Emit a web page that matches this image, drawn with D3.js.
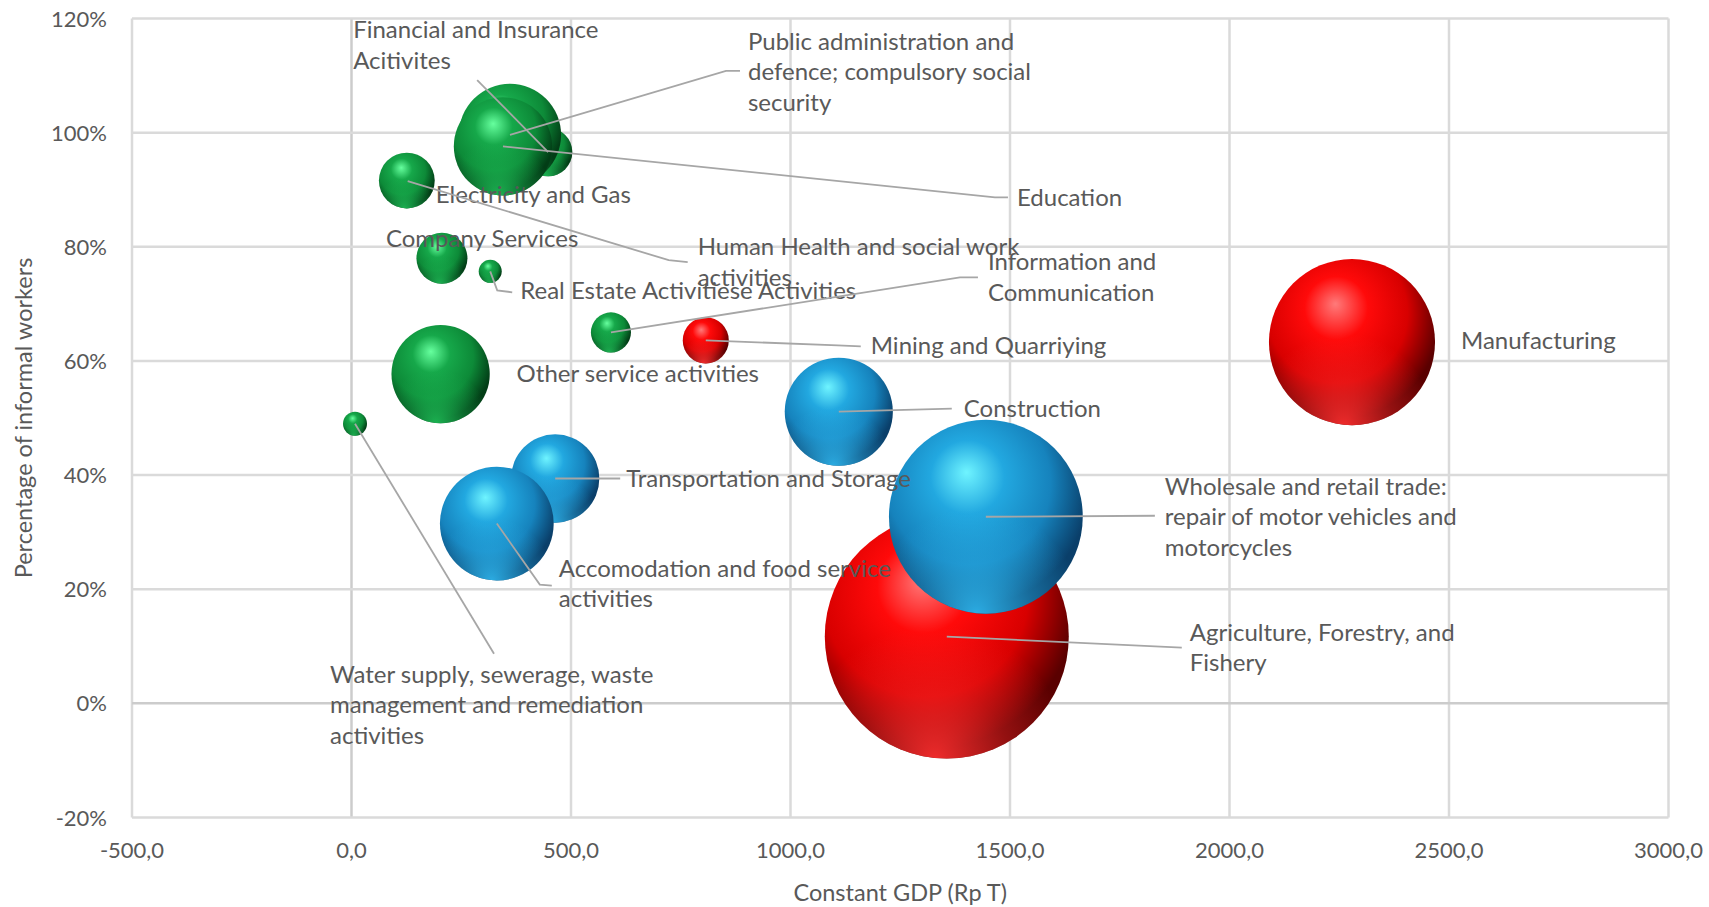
<!DOCTYPE html>
<html>
<head>
<meta charset="utf-8">
<script src="https://cdn.jsdelivr.net/npm/d3@7/dist/d3.min.js"></script>
<style>
  html, body { margin: 0; padding: 0; background: #ffffff; }
  svg { display: block; }
  text { font-family: Lato, "Open Sans", sans-serif; fill: #595959; }
</style>
</head>
<body>
<svg id="chart" width="1709" height="907"></svg>
<script>
// Sectors, drawn in this order (later ones sit on top)
const sectors = [
  "Agriculture, Forestry, and Fishery",
  "Mining and Quarriying",
  "Manufacturing",
  "Human Health and social work activities",
  "Electricity and Gas",
  "Water supply, sewerage, waste management and remediation activities",
  "Construction",
  "Wholesale and retail trade: repair of motor vehicles and motorcycles",
  "Transportation and Storage",
  "Accomodation and food service activities",
  "Information and Communication",
  "Financial and Insurance Acitivites",
  "Real Estate Activities",
  "Company Services",
  "Public administration and defence; compulsory social security",
  "Education",
  "Other service activities"
];
// Constant GDP (Rp T)
const gdp = [1356, 807, 2279, 128, 126, 8, 1110, 1445, 464, 331, 591, 448, 316, 206, 361, 345, 203];
// Share of informal workers
const informal = [0.117, 0.636, 0.633, 0.915, 0.916, 0.490, 0.511, 0.327, 0.394, 0.315, 0.650, 0.966, 0.757, 0.780, 0.996, 0.976, 0.577];
// Bubble size (workers, millions)
const workers = [38.2, 1.36, 17.7, 1.0, 2.0, 0.37, 7.5, 24.1, 5.0, 8.3, 1.03, 1.5, 0.34, 1.67, 6.7, 6.2, 6.2];
// Sector group
const group = ["primary", "primary", "primary", "services", "services", "services", "trade", "trade", "trade", "trade",
               "services", "services", "services", "services", "services", "services", "services"];

// Data label lines as displayed
const labelLines = [
  ["Agriculture, Forestry, and", "Fishery"],
  ["Mining and Quarriying"],
  ["Manufacturing"],
  ["Human Health and social work", "activities"],
  ["Electricity and Gas"],
  ["Water supply, sewerage, waste", "management and remediation", "activities"],
  ["Construction"],
  ["Wholesale and retail trade:", "repair of motor vehicles and", "motorcycles"],
  ["Transportation and Storage"],
  ["Accomodation and food service", "activities"],
  ["Information and", "Communication"],
  ["Financial and Insurance", "Acitivites"],
  ["Real Estate Activitiese Activities"],
  ["Company Services"],
  ["Public administration and", "defence; compulsory social", "security"],
  ["Education"],
  ["Other service activities"]
];

// Axis ticks
const xTicks = [-500, 0, 500, 1000, 1500, 2000, 2500, 3000];
const yTicks = [-0.2, 0, 0.2, 0.4, 0.6, 0.8, 1.0, 1.2];

// Label placement: offset of first-line baseline from the bubble centre, and leader path points (offsets)
const labelLayout = [
  { dx: 243, dy: 4,    leader: [[235, 11]] },
  { dx: 165, dy: 14,   leader: [[132, 5], [155, 6]] },
  { dx: 109, dy: 7,    leader: null },
  { dx: 290, dy: 74,   leader: [[261, 79], [280, 81]] },
  { dx: 29,  dy: 22,   leader: null },
  { dx: -25, dy: 259,  leader: [[139, 230]] },
  { dx: 125, dy: 5,    leader: [[113, -3]] },
  { dx: 179, dy: -22,  leader: [[169, -1]] },
  { dx: 71,  dy: 9,    leader: [[65, 0]] },
  { dx: 62,  dy: 53,   leader: [[43, 61], [55, 62]] },
  { dx: 377, dy: -62,  leader: [[349, -55], [367, -55]] },
  { dx: -195, dy: -114, leader: [[-71, -72]] },
  { dx: 30,  dy: 28,   leader: [[7, 19], [22, 21]] },
  { dx: -56, dy: -11,  leader: null },
  { dx: 238, dy: -85,  leader: [[216, -64], [230, -64]] },
  { dx: 514, dy: 60,   leader: [[492, 51], [505, 51]] },
  { dx: 76,  dy: 8,    leader: null }
];

const palette = {
  primary:  { hi: "#ff7a7a", body: "#ff0a0a", mid: "#d80000", dark: "#5a0000", glow: "#ff3030" },
  trade:    { hi: "#6ff4ff", body: "#22a8e0", mid: "#1683bd", dark: "#0a3f6a", glow: "#2fb8f0" },
  services: { hi: "#66ff9e", body: "#16a84a", mid: "#0d8a38", dark: "#023d16", glow: "#1fbf58" }
};

const data = sectors.map((name, i) => ({
  name, gdp: gdp[i], informal: informal[i], workers: workers[i], group: group[i],
  lines: labelLines[i], layout: labelLayout[i]
}));

const svg = d3.select("#chart");
const plot = { left: 132, right: 1668.5, top: 18.5, bottom: 817.5 };

const x = d3.scaleLinear().domain([-500, 3000]).range([plot.left, plot.right]);
const y = d3.scaleLinear().domain([-0.2, 1.2]).range([plot.bottom, plot.top]);
const r = d3.scaleSqrt().domain([0, d3.max(workers)]).range([0, 122]);

// Sphere shading
const defs = svg.append("defs");
Object.entries(palette).forEach(([key, c]) => {
  const g = defs.append("radialGradient").attr("id", "sphere-" + key)
    .attr("cx", 0.42).attr("cy", 0.36).attr("r", 0.68).attr("fx", 0.40).attr("fy", 0.27);
  g.append("stop").attr("offset", 0).attr("stop-color", c.hi);
  g.append("stop").attr("offset", 0.28).attr("stop-color", c.body);
  g.append("stop").attr("offset", 0.62).attr("stop-color", c.mid);
  g.append("stop").attr("offset", 0.9).attr("stop-color", c.dark);
  g.append("stop").attr("offset", 1).attr("stop-color", c.dark);
  const b = defs.append("radialGradient").attr("id", "glow-" + key)
    .attr("cx", 0.45).attr("cy", 1.0).attr("r", 0.55);
  b.append("stop").attr("offset", 0).attr("stop-color", c.glow).attr("stop-opacity", 0.9);
  b.append("stop").attr("offset", 0.55).attr("stop-color", c.glow).attr("stop-opacity", 0.35);
  b.append("stop").attr("offset", 1).attr("stop-color", c.glow).attr("stop-opacity", 0);
});

// Gridlines
const grid = svg.append("g");
grid.selectAll("line.v").data(xTicks).join("line")
  .attr("x1", d => x(d)).attr("x2", d => x(d))
  .attr("y1", plot.top).attr("y2", plot.bottom)
  .attr("stroke", d => d === 0 ? "#cccccc" : "#dadada").attr("stroke-width", 2.5);
grid.selectAll("line.h").data(yTicks).join("line")
  .attr("x1", plot.left).attr("x2", plot.right)
  .attr("y1", d => y(d)).attr("y2", d => y(d))
  .attr("stroke", d => d === 0 ? "#cccccc" : "#dadada").attr("stroke-width", 2.5);

// Tick labels (comma decimal, plain hyphen for negatives)
const fmtX = v => d3.format(".1f")(v).replace(".", ",").replace("\u2212", "-");
const fmtY = v => d3.format(".0%")(v).replace("\u2212", "-");
svg.append("g").selectAll("text").data(xTicks).join("text")
  .attr("x", d => x(d)).attr("y", 858)
  .attr("text-anchor", "middle").attr("font-size", 22)
  .text(fmtX);
svg.append("g").selectAll("text").data(yTicks).join("text")
  .attr("x", 107).attr("y", d => y(d) + 8)
  .attr("text-anchor", "end").attr("font-size", 22)
  .text(fmtY);

// Axis titles
svg.append("text").attr("x", (plot.left + plot.right) / 2).attr("y", 901)
  .attr("text-anchor", "middle").attr("font-size", 23.5).text("Constant GDP (Rp T)");
svg.append("text").attr("transform", `translate(32,${(plot.top + plot.bottom) / 2}) rotate(-90)`)
  .attr("text-anchor", "middle").attr("font-size", 23.5).text("Percentage of informal workers");

// Bubbles
const bubbles = svg.append("g").selectAll("g").data(data).join("g")
  .attr("transform", d => `translate(${x(d.gdp)},${y(d.informal)})`);
bubbles.append("circle").attr("r", d => r(d.workers))
  .attr("fill", d => `url(#sphere-${d.group})`);
bubbles.append("circle").attr("r", d => r(d.workers))
  .attr("fill", d => `url(#glow-${d.group})`);

// Data labels
const labels = svg.append("g").selectAll("text").data(data).join("text")
  .attr("font-size", 24)
  .attr("x", d => x(d.gdp) + d.layout.dx)
  .attr("y", d => y(d.informal) + d.layout.dy);
labels.selectAll("tspan").data(d => d.lines.map(t => ({ t, d }))).join("tspan")
  .attr("x", o => x(o.d.gdp) + o.d.layout.dx)
  .attr("dy", (o, i) => i === 0 ? 0 : 30.5)
  .text(o => o.t);

// Leader lines
svg.append("g").selectAll("path").data(data.filter(d => d.layout.leader)).join("path")
  .attr("fill", "none").attr("stroke", "#a6a6a6").attr("stroke-width", 1.8)
  .attr("d", d => {
    const cx = x(d.gdp), cy = y(d.informal);
    return d3.line()([[cx, cy], ...d.layout.leader.map(p => [cx + p[0], cy + p[1]])]);
  });
</script>
</body>
</html>
